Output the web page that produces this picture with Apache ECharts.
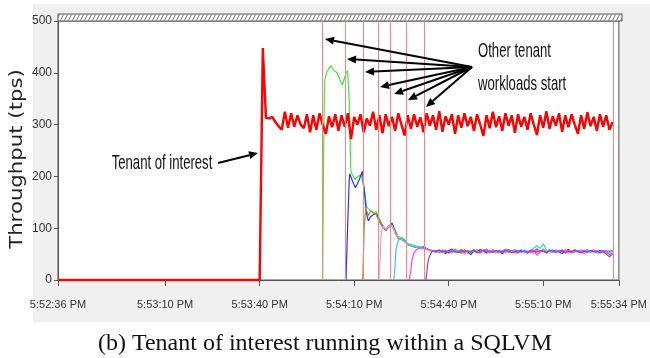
<!DOCTYPE html>
<html>
<head>
<meta charset="utf-8">
<script src="https://cdn.jsdelivr.net/npm/echarts@6/dist/echarts.min.js"></script>
<style>
  html, body { margin: 0; padding: 0; background: #fff; }
  #chart { width: 650px; height: 358px; }
</style>
</head>
<body>
<div id="chart"></div>
<script>
// seconds since 5:52:36 PM
var xTickSeconds = [0, 34, 64, 94, 124, 154, 178];
var xTickLabels = ['5:52:36 PM', '5:53:10 PM', '5:53:40 PM', '5:54:10 PM', '5:54:40 PM', '5:55:10 PM', '5:55:34 PM'];
var yTicks = [0, 100, 200, 300, 400, 500];

// red markers: other tenant workloads start + cursor
var startLines = [84.0, 91.3, 96.9, 101.6, 105.6, 110.5, 116.3];
var cursorLine = 176.3;

// tenant of interest, one value per second from redStart
var redStart = 64;
var redValues = [
  0, 448, 313, 312, 315, 305, 297, 290, 325, 294,
  322, 296, 318, 300, 293, 320, 285, 318, 290, 322,
  300, 282, 316, 295, 320, 288, 318, 296, 322, 272,
  315, 300, 320, 285, 312, 298, 325, 290, 318, 283,
  320, 297, 315, 288, 322, 300, 279, 318, 292, 320,
  296, 314, 285, 322, 298, 318, 290, 326, 286, 316,
  300, 320, 282, 318, 294, 322, 297, 315, 288, 320,
  300, 278, 318, 293, 325, 295, 316, 288, 322, 298,
  318, 284, 320, 296, 315, 290, 322, 300, 280, 318,
  294, 326, 292, 316, 298, 322, 286, 318, 295, 320,
  300, 282, 318, 292, 324, 297, 315, 288, 320, 296,
  318, 290, 305
];

// other tenants: ramp-up as [second, tps], then one value per second from steadyStart
var steadyStart = 120;

var t1Ramp = [[84.0, 0], [84.3, 250], [84.6, 385], [85.3, 402], [86.6, 414], [87.6, 404], [88.6, 400], [89.8, 381], [90.3, 377], [91.4, 400], [91.9, 404], [92.4, 350], [92.9, 215], [93.1, 207], [94.2, 194], [95.2, 200], [96.2, 203], [96.7, 200], [97.4, 168], [97.9, 142], [99, 134], [100, 130], [101, 132], [102, 118], [103, 106], [104, 98], [105, 105], [106, 108], [107, 96], [108, 84], [109, 82], [110, 78], [111, 70], [112, 69], [113, 66], [114, 65], [115, 64], [116, 63], [117, 61], [118, 58], [119, 57]];
var t1Steady = [56, 54, 58, 52, 57, 55, 60, 53, 56, 58, 51, 57, 55, 59, 54, 56, 53, 58, 55, 57, 52, 56, 59, 54, 57, 55, 53, 58, 56, 54, 57, 52, 58, 55, 60, 54, 56, 53, 57, 55, 58, 52, 56, 54, 59, 55, 53, 57, 54, 56, 58, 52, 55, 57, 54, 56, 55];

var t2Ramp = [[91.4, 0], [91.9, 100], [92.4, 190], [92.6, 205], [93.5, 190], [94.4, 178], [95.5, 192], [96.6, 210], [97.4, 160], [97.9, 128], [98.5, 114], [99.2, 122], [100, 126], [101, 128], [102, 112], [103, 104], [104, 96], [105, 102], [106, 110], [107, 94], [108, 80], [109, 80], [110, 76], [111, 68], [112, 67], [113, 64], [114, 63], [115, 62], [116, 64], [117, 60], [118, 57], [119, 55]];
var t2Steady = [54, 58, 55, 51, 57, 60, 53, 56, 52, 58, 55, 49, 57, 54, 59, 56, 52, 55, 58, 53, 57, 51, 55, 59, 54, 56, 52, 58, 55, 53, 57, 55, 60, 54, 56, 52, 57, 55, 58, 54, 51, 56, 59, 53, 55, 57, 54, 52, 58, 55, 56, 53, 57, 54, 56, 55, 57];

var t3Ramp = [[96.7, 0], [97.2, 105], [97.7, 138], [98.5, 124], [99.3, 134], [100, 130], [101, 126], [102, 114], [103, 102], [104, 96], [105, 103], [106, 105], [107, 90], [108, 80], [109, 78], [110, 74], [111, 68], [112, 66], [113, 65], [114, 64], [115, 62], [116, 62], [117, 59], [118, 58], [119, 56]];
var t3Steady = [57, 55, 53, 58, 54, 56, 59, 55, 52, 57, 56, 54, 58, 53, 55, 57, 60, 54, 56, 52, 58, 55, 57, 53, 56, 59, 54, 55, 57, 52, 56, 58, 54, 55, 57, 53, 59, 55, 54, 56, 58, 52, 57, 55, 54, 56, 53, 58, 55, 57, 54, 56, 52, 55, 57, 54, 56];

var t4Ramp = [[101.8, 0], [102.3, 50], [102.6, 93], [103.2, 104], [104, 98], [105, 104], [106, 106], [107, 92], [108, 82], [109, 79], [110, 75], [111, 69], [112, 67], [113, 66], [114, 63], [115, 63], [116, 61], [117, 60], [118, 57], [119, 56]];
var t4Steady = [55, 57, 52, 56, 54, 58, 53, 55, 57, 50, 56, 54, 58, 55, 53, 57, 54, 56, 59, 53, 55, 57, 52, 56, 54, 58, 55, 53, 57, 56, 54, 52, 58, 55, 57, 54, 56, 53, 55, 58, 54, 56, 52, 57, 55, 54, 58, 53, 56, 55, 57, 54, 52, 56, 55, 50, 53];

var t5Ramp = [[106.6, 0], [107.0, 30], [107.3, 60], [107.9, 75], [108.6, 80], [109.5, 78], [110.3, 74], [111, 70], [112, 66], [113, 66], [114, 64], [115, 63], [116, 61], [117, 60], [118, 58], [119, 56]];
var t5Steady = [53, 56, 58, 54, 55, 52, 57, 55, 59, 54, 56, 53, 57, 55, 54, 58, 56, 52, 55, 57, 54, 56, 60, 55, 53, 57, 54, 56, 58, 55, 57, 62, 66, 61, 70, 58, 55, 53, 57, 54, 56, 58, 55, 53, 57, 55, 54, 56, 58, 53, 55, 57, 54, 56, 55, 53, 57];

var t6Ramp = [[111.5, 0], [112.0, 20], [112.3, 38], [113.1, 55], [114.2, 60], [115, 62], [116, 62], [117, 60], [118, 57], [119, 56]];
var t6Steady = [56, 53, 57, 55, 52, 58, 54, 56, 55, 53, 57, 54, 59, 55, 52, 56, 58, 54, 55, 57, 53, 56, 54, 58, 55, 52, 57, 55, 54, 56, 53, 57, 48, 55, 58, 54, 56, 55, 53, 57, 54, 58, 55, 52, 56, 54, 57, 55, 53, 56, 58, 54, 55, 57, 53, 49, 52];

var t7Ramp = [[116.8, 0], [117.3, 30], [117.6, 40], [118.2, 50], [119, 57]];
var t7Steady = [55, 58, 54, 56, 52, 57, 55, 53, 58, 54, 56, 55, 57, 52, 55, 58, 54, 56, 53, 57, 55, 54, 58, 56, 53, 55, 57, 54, 56, 52, 58, 55, 54, 57, 55, 53, 56, 58, 54, 55, 57, 53, 56, 54, 58, 55, 52, 56, 55, 57, 54, 56, 53, 55, 50, 45, 50];

var tenantColors = ['#3fe83f', '#2f2fff', '#b0873a', '#e49ad0', '#3ec4f4', '#ff3cff', '#9a4a9a'];

var sansFont = "'Liberation Sans', Arial, sans-serif";

function tenantData(ramp, steady) {
  return ramp.concat(steady.map(function (v, i) { return [steadyStart + i, v]; }));
}

function tenantSeries(ramp, steady, color) {
  return {
    type: 'line',
    data: tenantData(ramp, steady),
    showSymbol: false,
    lineStyle: { color: color, width: 1.2 },
    z: 3
  };
}

// arrow as line + filled head (pixel layout of the annotations)
function arrow(x1, y1, x2, y2) {
  var a = Math.atan2(y2 - y1, x2 - x1);
  var len = 9, half = 4;
  var bx = x2 - len * Math.cos(a), by = y2 - len * Math.sin(a);
  return [
    { type: 'line', shape: { x1: x1, y1: y1, x2: bx, y2: by }, style: { stroke: '#000', lineWidth: 2 }, z: 20 },
    { type: 'polygon', shape: { points: [[x2, y2], [bx - half * Math.sin(a), by + half * Math.cos(a)], [bx + half * Math.sin(a), by - half * Math.cos(a)]] }, style: { fill: '#000' }, z: 20 }
  ];
}

// condensed, tall annotation text
function note(text, x, y, align) {
  return {
    type: 'text', x: x, y: y, scaleX: 0.82, scaleY: 1.3,
    style: { text: text, font: '16px ' + sansFont, fill: '#111', align: align, verticalAlign: 'middle' },
    z: 20
  };
}

// hatch pattern for the band above the plot
var hatch = document.createElement('canvas');
hatch.width = 4; hatch.height = 7;
var hctx = hatch.getContext('2d');
hctx.fillStyle = '#fff';
hctx.fillRect(0, 0, 4, 7);
hctx.strokeStyle = '#777';
hctx.lineWidth = 1;
hctx.beginPath();
hctx.moveTo(0.5, 6.5); hctx.lineTo(3.5, 0.5);
hctx.stroke();

var chartDom = document.getElementById('chart');
var myChart = echarts.init(chartDom);

var graphics = [
  { type: 'rect', shape: { x: 33, y: 4, width: 617, height: 318 }, style: { fill: '#f0f0f0' }, z: -10 },
  { type: 'rect', shape: { x: 58, y: 14, width: 564, height: 7 }, style: { fill: { image: hatch, repeat: 'repeat' }, stroke: '#555', lineWidth: 1 }, z: 5 },
  { type: 'text', x: 18, y: 159, rotation: Math.PI / 2, scaleX: 1.25, style: { text: 'Throughput (tps)', font: "17px 'DejaVu Sans'", fill: '#222', align: 'center', verticalAlign: 'middle' }, z: 20 },
  note('Tenant of interest', 162, 163, 'center'),
  note('Other tenant', 478, 51, 'left'),
  note('workloads start', 478, 84, 'left'),
  { type: 'text', x: 325, y: 344, style: { text: '(b) Tenant of interest running within a SQLVM', font: "24px 'Liberation Serif'", fill: '#111', align: 'center', verticalAlign: 'middle' }, z: 20 }
];
graphics = graphics
  .concat(arrow(218, 163, 258, 153))
  .concat(arrow(472, 67, 325, 39))
  .concat(arrow(472, 67, 347, 59))
  .concat(arrow(472, 67, 365, 72))
  .concat(arrow(472, 67, 380, 87))
  .concat(arrow(472, 67, 394, 94))
  .concat(arrow(472, 67, 408, 100))
  .concat(arrow(472, 67, 426, 107));

var option = {
  animation: false,
  backgroundColor: '#fff',
  grid: {
    show: true,
    left: 58,
    right: 28,
    top: 21,
    bottom: 78,
    backgroundColor: '#fff',
    borderColor: '#555',
    borderWidth: 1
  },
  xAxis: {
    type: 'value',
    min: 0,
    max: 178,
    axisLine: { show: true, onZero: false, lineStyle: { color: '#555', width: 1 } },
    axisTick: { show: true, length: 6, customValues: xTickSeconds, lineStyle: { color: '#555' } },
    axisLabel: {
      customValues: xTickSeconds,
      margin: 19,
      color: '#333',
      fontSize: 11,
      fontFamily: sansFont,
      formatter: function (v) {
        var i = xTickSeconds.indexOf(v);
        return i >= 0 ? xTickLabels[i] : '';
      }
    },
    splitLine: { show: false }
  },
  yAxis: {
    type: 'value',
    min: 0,
    max: 500,
    interval: 100,
    axisLine: { show: true, lineStyle: { color: '#555', width: 1 } },
    axisTick: { show: true, length: 4, lineStyle: { color: '#555' } },
    axisLabel: {
      margin: 6,
      color: '#333',
      fontSize: 12,
      fontFamily: sansFont,
      formatter: function (v) { return yTicks.indexOf(v) >= 0 ? String(v) : ''; }
    },
    splitLine: { show: false }
  },
  graphic: graphics,
  series: [
    {
      type: 'line',
      data: [[0, 0]].concat(redValues.map(function (v, i) { return [redStart + i, v]; })),
      showSymbol: false,
      lineStyle: { color: '#ff0000', width: 2.4 },
      z: 4,
      markLine: {
        silent: true,
        symbol: 'none',
        label: { show: false },
        lineStyle: { color: '#ff8080', width: 1, type: 'solid' },
        data: startLines.concat([cursorLine]).map(function (v) { return { xAxis: v }; })
      }
    },
    tenantSeries(t1Ramp, t1Steady, tenantColors[0]),
    tenantSeries(t2Ramp, t2Steady, tenantColors[1]),
    tenantSeries(t3Ramp, t3Steady, tenantColors[2]),
    tenantSeries(t4Ramp, t4Steady, tenantColors[3]),
    tenantSeries(t5Ramp, t5Steady, tenantColors[4]),
    tenantSeries(t6Ramp, t6Steady, tenantColors[5]),
    tenantSeries(t7Ramp, t7Steady, tenantColors[6])
  ]
};

option && myChart.setOption(option);
window.addEventListener('resize', function () {
  myChart.resize();
});
</script>
</body>
</html>
